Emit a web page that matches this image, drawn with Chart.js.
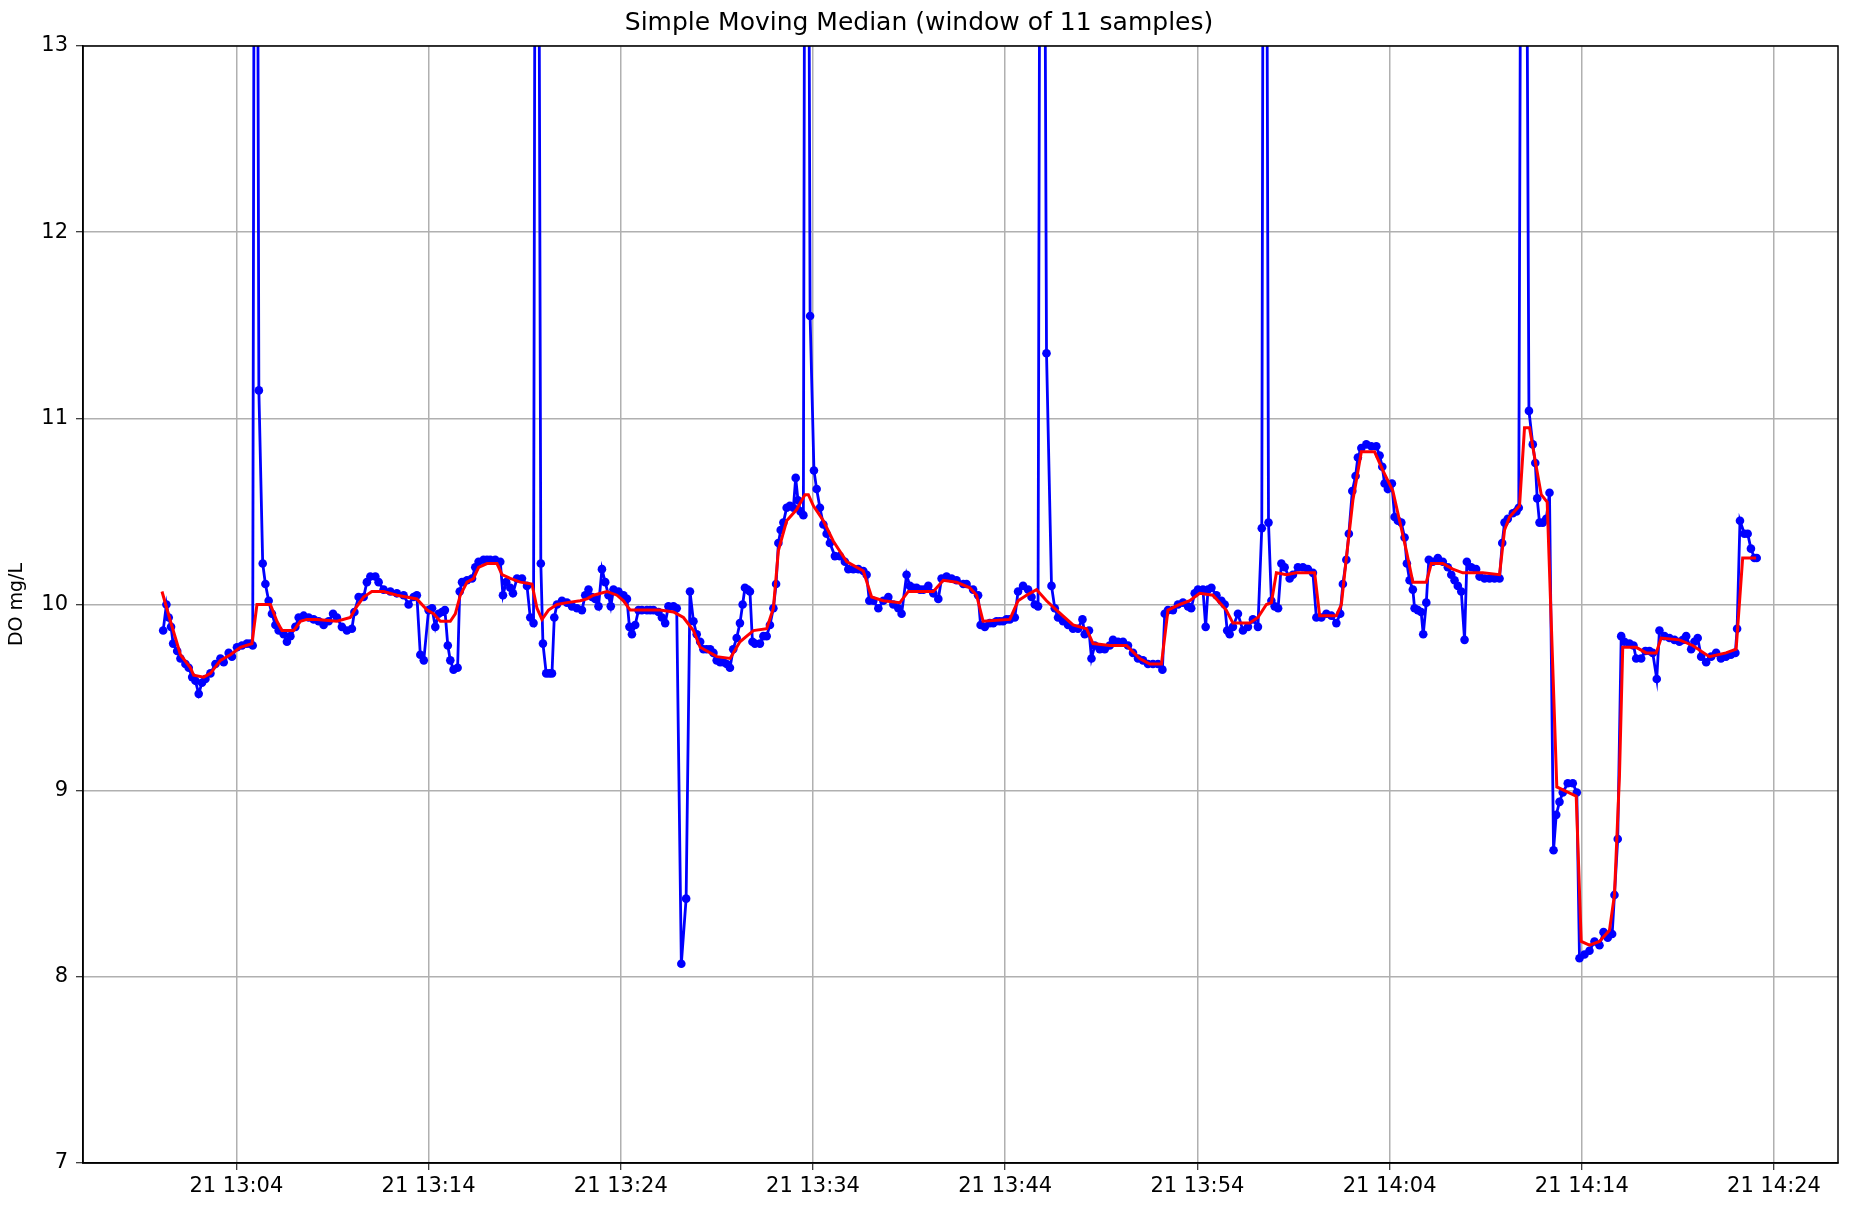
<!DOCTYPE html>
<html>
<head>
<meta charset="utf-8">
<script src="https://cdn.jsdelivr.net/npm/chart.js@4.4.1/dist/chart.umd.min.js"></script>
<style>
    body { margin: 0; background: #fff; }
    #wrap { width: 1850px; height: 1210px; }
</style>
</head>
<body>
<div id="wrap"><canvas id="medianChart" width="1850" height="1210"></canvas></div>
<script>
// minutes after 13:00 on day 21
const tickMinutes = [4, 14, 24, 34, 44, 54, 64, 74, 84];

const rawMinutes = [
    0.19, 0.36, 0.48, 0.60, 0.71, 0.92, 1.09, 1.35, 1.52, 1.70,
    1.87, 2.04, 2.21, 2.39, 2.65, 2.91, 3.17, 3.34, 3.60, 3.77,
    4.03, 4.29, 4.55, 4.73, 4.85, 5.00, 5.17, 5.37, 5.51, 5.68,
    5.85, 6.03, 6.20, 6.46, 6.63, 6.81, 7.07, 7.24, 7.50, 7.76,
    8.02, 8.28, 8.54, 8.80, 9.03, 9.23, 9.49, 9.75, 10.01, 10.14,
    10.36, 10.62, 10.79, 10.97, 11.23, 11.40, 11.66, 12.01, 12.35, 12.70,
    12.96, 13.22, 13.39, 13.57, 13.75, 14.00, 14.18, 14.35, 14.52, 14.70,
    14.85, 15.00, 15.13, 15.30, 15.51, 15.62, 15.74, 16.00, 16.26, 16.43,
    16.60, 16.86, 17.04, 17.21, 17.47, 17.73, 17.87, 18.04, 18.25, 18.39,
    18.60, 18.86, 19.12, 19.29, 19.46, 19.62, 19.84, 19.95, 20.12, 20.28,
    20.42, 20.54, 20.68, 20.94, 21.20, 21.46, 21.72, 21.98, 22.15, 22.32,
    22.50, 22.67, 22.84, 23.02, 23.19, 23.36, 23.48, 23.62, 23.88, 24.14,
    24.32, 24.45, 24.58, 24.75, 24.92, 25.10, 25.36, 25.53, 25.70, 25.96,
    26.14, 26.31, 26.48, 26.74, 26.91, 27.15, 27.40, 27.60, 27.78, 27.95,
    28.13, 28.30, 28.47, 28.65, 28.82, 28.99, 29.17, 29.34, 29.51, 29.68,
    29.85, 30.03, 30.20, 30.34, 30.46, 30.60, 30.72, 30.85, 30.98, 31.24,
    31.42, 31.59, 31.76, 31.94, 32.08, 32.20, 32.32, 32.46, 32.63, 32.80,
    32.98, 33.10, 33.22, 33.35, 33.50, 33.65, 33.85, 34.05, 34.19, 34.36,
    34.54, 34.71, 34.88, 35.14, 35.40, 35.66, 35.84, 36.10, 36.36, 36.62,
    36.79, 36.93, 37.14, 37.40, 37.66, 37.92, 38.18, 38.44, 38.61, 38.87,
    39.04, 39.22, 39.39, 39.57, 39.74, 40.00, 40.26, 40.52, 40.69, 40.95,
    41.21, 41.47, 41.82, 41.99, 42.33, 42.59, 42.72, 42.94, 43.20, 43.38,
    43.55, 43.72, 43.89, 44.07, 44.24, 44.50, 44.67, 44.93, 45.19, 45.37,
    45.54, 45.71, 45.90, 46.15, 46.41, 46.58, 46.75, 47.01, 47.27, 47.53,
    47.79, 48.02, 48.14, 48.36, 48.49, 48.66, 48.92, 49.18, 49.44, 49.61,
    49.87, 50.13, 50.39, 50.65, 50.91, 51.17, 51.43, 51.69, 51.95, 52.18,
    52.30, 52.47, 52.73, 52.99, 53.25, 53.51, 53.68, 53.86, 54.03, 54.29,
    54.43, 54.55, 54.73, 54.99, 55.25, 55.42, 55.55, 55.68, 55.85, 56.11,
    56.37, 56.63, 56.89, 57.15, 57.35, 57.50, 57.70, 57.85, 58.02, 58.20,
    58.37, 58.54, 58.80, 58.97, 59.23, 59.49, 59.75, 60.01, 60.19, 60.45,
    60.71, 60.97, 61.23, 61.43, 61.57, 61.75, 61.88, 62.06, 62.23, 62.35,
    62.53, 62.79, 63.05, 63.31, 63.48, 63.62, 63.74, 63.91, 64.12, 64.26,
    64.43, 64.61, 64.78, 64.90, 65.04, 65.21, 65.30, 65.47, 65.64, 65.75,
    65.91, 66.04, 66.25, 66.51, 66.77, 67.03, 67.21, 67.38, 67.55, 67.73,
    67.90, 68.02, 68.25, 68.50, 68.68, 68.94, 69.20, 69.46, 69.72, 69.86,
    69.98, 70.15, 70.41, 70.60, 70.72, 70.95, 71.25, 71.45, 71.58, 71.68,
    71.80, 71.97, 72.15, 72.32, 72.53, 72.67, 72.84, 73.01, 73.27, 73.53,
    73.74, 73.88, 74.14, 74.40, 74.66, 74.92, 75.13, 75.35, 75.58, 75.70,
    75.87, 76.05, 76.22, 76.48, 76.69, 76.83, 77.09, 77.31, 77.52, 77.69,
    77.90, 78.04, 78.30, 78.56, 78.82, 79.08, 79.26, 79.43, 79.69, 79.86,
    80.03, 80.21, 80.47, 80.73, 80.99, 81.24, 81.50, 81.76, 81.99, 82.08,
    82.23, 82.46, 82.63, 82.80, 82.98, 83.10
];

const rawDO = [
    9.86, 10.00, 9.93, 9.88, 9.79, 9.75, 9.71, 9.68, 9.66, 9.61,
    9.59, 9.52, 9.58, 9.60, 9.63, 9.68, 9.71, 9.69, 9.74, 9.72,
    9.77, 9.78, 9.79, 9.79, 9.78, 18, 11.15, 10.22, 10.11, 10.02,
    9.95, 9.89, 9.86, 9.84, 9.80, 9.83, 9.88, 9.93, 9.94, 9.93,
    9.92, 9.91, 9.89, 9.91, 9.95, 9.93, 9.88, 9.86, 9.87, 9.96,
    10.04, 10.04, 10.12, 10.15, 10.15, 10.12, 10.08, 10.07, 10.06, 10.05,
    10.00, 10.04, 10.05, 9.73, 9.70, 9.97, 9.98, 9.88, 9.95, 9.96,
    9.97, 9.78, 9.70, 9.65, 9.66, 10.07, 10.12, 10.13, 10.14, 10.20,
    10.23, 10.24, 10.24, 10.24, 10.24, 10.23, 10.05, 10.12, 10.09, 10.06,
    10.14, 10.14, 10.10, 9.93, 9.90, 18, 10.22, 9.79, 9.63, 9.63,
    9.63, 9.93, 10.00, 10.02, 10.01, 9.99, 9.98, 9.97, 10.05, 10.08,
    10.04, 10.03, 9.99, 10.19, 10.12, 10.05, 9.99, 10.08, 10.07, 10.05,
    10.03, 9.88, 9.84, 9.89, 9.97, 9.97, 9.97, 9.97, 9.97, 9.96,
    9.93, 9.90, 9.99, 9.99, 9.98, 8.07, 8.42, 10.07, 9.91, 9.84,
    9.80, 9.76, 9.76, 9.76, 9.74, 9.70, 9.69, 9.69, 9.68, 9.66,
    9.76, 9.82, 9.90, 10.00, 10.09, 10.08, 10.07, 9.80, 9.79, 9.79,
    9.83, 9.83, 9.89, 9.98, 10.11, 10.33, 10.40, 10.44, 10.52, 10.53,
    10.52, 10.68, 10.56, 10.50, 10.48, 18, 11.55, 10.72, 10.62, 10.52,
    10.43, 10.38, 10.33, 10.26, 10.26, 10.23, 10.19, 10.19, 10.19, 10.18,
    10.16, 10.02, 10.02, 9.98, 10.02, 10.04, 10.00, 9.98, 9.95, 10.16,
    10.10, 10.09, 10.09, 10.08, 10.08, 10.10, 10.06, 10.03, 10.14, 10.15,
    10.14, 10.13, 10.11, 10.11, 10.08, 10.05, 9.89, 9.88, 9.90, 9.90,
    9.91, 9.91, 9.91, 9.92, 9.92, 9.93, 10.07, 10.10, 10.08, 10.04,
    10.00, 9.99, 18, 11.35, 10.10, 9.98, 9.93, 9.91, 9.89, 9.87,
    9.87, 9.92, 9.84, 9.86, 9.71, 9.78, 9.76, 9.76, 9.78, 9.81,
    9.80, 9.80, 9.78, 9.74, 9.71, 9.70, 9.68, 9.68, 9.68, 9.65,
    9.95, 9.97, 9.97, 10.00, 10.01, 9.99, 9.98, 10.06, 10.08, 10.08,
    9.88, 10.08, 10.09, 10.05, 10.02, 10.00, 9.86, 9.84, 9.88, 9.95,
    9.86, 9.88, 9.92, 9.88, 10.41, 18, 10.44, 10.02, 9.99, 9.98,
    10.22, 10.20, 10.14, 10.16, 10.20, 10.20, 10.19, 10.17, 9.93, 9.93,
    9.95, 9.94, 9.90, 9.95, 10.11, 10.24, 10.38, 10.61, 10.69, 10.79,
    10.84, 10.86, 10.85, 10.85, 10.80, 10.74, 10.65, 10.62, 10.65, 10.47,
    10.45, 10.44, 10.36, 10.22, 10.13, 10.08, 9.98, 9.97, 9.96, 9.84,
    10.01, 10.24, 10.23, 10.25, 10.23, 10.20, 10.16, 10.13, 10.10, 10.07,
    9.81, 10.23, 10.20, 10.19, 10.15, 10.14, 10.14, 10.14, 10.14, 10.33,
    10.44, 10.46, 10.49, 10.50, 10.52, 18, 11.04, 10.86, 10.76, 10.57,
    10.44, 10.44, 10.46, 10.60, 8.68, 8.87, 8.94, 8.99, 9.04, 9.04,
    8.99, 8.10, 8.12, 8.14, 8.19, 8.17, 8.24, 8.21, 8.23, 8.44,
    8.74, 9.83, 9.80, 9.79, 9.78, 9.71, 9.71, 9.75, 9.75, 9.74,
    9.60, 9.86, 9.83, 9.82, 9.81, 9.80, 9.81, 9.83, 9.76, 9.80,
    9.82, 9.72, 9.69, 9.72, 9.74, 9.71, 9.72, 9.73, 9.74, 9.87,
    10.45, 10.38, 10.38, 10.30, 10.25, 10.25
];

const medianMinutes = [
    0.13, 0.57, 1.09, 1.61, 1.78, 2.30, 2.65, 3.17, 3.69, 4.21,
    4.81, 5.07, 5.77, 6.11, 6.37, 6.98, 7.33, 7.67, 8.19, 9.23,
    9.93, 10.27, 10.62, 11.05, 11.66, 12.35, 13.39, 13.92, 14.26, 14.61,
    15.13, 15.39, 15.65, 16.00, 16.34, 16.60, 17.04, 17.56, 17.82, 18.25,
    18.77, 19.38, 19.64, 19.90, 20.24, 20.68, 21.20, 21.89, 22.24, 22.58,
    23.28, 23.80, 24.14, 24.49, 25.01, 26.05, 26.74, 27.26, 27.78, 28.13,
    29.00, 29.69, 30.20, 30.90, 31.59, 31.94, 32.20, 32.63, 33.15, 33.58,
    33.76, 34.02, 34.54, 35.06, 35.75, 36.62, 37.05, 37.66, 38.52, 38.96,
    40.26, 40.78, 41.47, 42.16, 42.51, 42.85, 44.24, 44.67, 45.11, 45.63,
    46.15, 46.67, 47.53, 48.23, 48.57, 49.44, 50.31, 51.00, 51.52, 52.13,
    52.47, 53.08, 53.60, 54.12, 54.81, 55.50, 55.85, 56.72, 57.15, 57.59,
    57.85, 58.11, 58.63, 59.15, 60.10, 60.36, 61.23, 61.49, 61.75, 62.09,
    62.53, 63.22, 63.65, 64.17, 64.52, 64.87, 65.21, 65.91, 66.17, 66.77,
    67.29, 67.81, 68.85, 69.72, 69.98, 70.24, 70.76, 71.02, 71.28, 71.63,
    71.89, 72.20, 72.70, 73.71, 73.97, 74.40, 74.92, 75.44, 75.70, 75.96,
    76.13, 76.83, 77.35, 77.87, 78.13, 79.08, 79.77, 80.64, 81.50, 82.03,
    82.37, 83.07
];

const medianDO = [
    10.07, 9.91, 9.73, 9.66, 9.62, 9.61, 9.63, 9.70, 9.73, 9.77,
    9.79, 10.00, 10.00, 9.91, 9.86, 9.86, 9.91, 9.92, 9.92, 9.91,
    9.93, 9.99, 10.04, 10.07, 10.07, 10.05, 10.03, 9.97, 9.95, 9.91,
    9.91, 9.95, 10.05, 10.12, 10.14, 10.20, 10.22, 10.22, 10.16, 10.14,
    10.12, 10.11, 9.98, 9.92, 9.97, 10.00, 10.01, 10.02, 10.03, 10.05,
    10.07, 10.05, 10.02, 9.97, 9.97, 9.97, 9.96, 9.93, 9.86, 9.77,
    9.72, 9.71, 9.80, 9.86, 9.87, 9.98, 10.29, 10.45, 10.51, 10.59,
    10.59, 10.53, 10.45, 10.34, 10.23, 10.18, 10.04, 10.02, 10.01, 10.07,
    10.07, 10.13, 10.12, 10.09, 10.05, 9.91, 9.92, 10.02, 10.05, 10.08,
    10.02, 9.97, 9.89, 9.87, 9.79, 9.78, 9.78, 9.71, 9.68, 9.68,
    9.97, 10.00, 10.02, 10.06, 10.05, 9.97, 9.90, 9.90, 9.93, 10.00,
    10.01, 10.17, 10.16, 10.17, 10.17, 9.94, 9.94, 10.00, 10.25, 10.56,
    10.82, 10.82, 10.72, 10.61, 10.45, 10.29, 10.12, 10.12, 10.22, 10.22,
    10.19, 10.17, 10.17, 10.16, 10.40, 10.47, 10.53, 10.95, 10.95, 10.74,
    10.59, 10.55, 9.02, 8.97, 8.19, 8.17, 8.19, 8.25, 8.44, 9.08,
    9.77, 9.77, 9.74, 9.74, 9.82, 9.81, 9.78, 9.72, 9.74, 9.76,
    10.25, 10.25
];

function minuteLabel(m) {
    const total = 13 * 60 + Math.round(m);
    const h = Math.floor(total / 60);
    const mm = total % 60;
    return '21 ' + h + ':' + String(mm).padStart(2, '0');
}

// draw the top and right spines like matplotlib
const frame = {
    id: 'frame',
    afterDraw(chart) {
        const a = chart.chartArea;
        const c = chart.ctx;
        c.save();
        c.strokeStyle = '#000';
        c.lineWidth = 1.5;
        c.strokeRect(a.left, a.top, a.right - a.left, a.bottom - a.top);
        c.restore();
    }
};

Chart.defaults.font.family = 'DejaVu Sans';
Chart.defaults.color = '#000';

const ctx = document.getElementById('medianChart').getContext('2d');
new Chart(ctx, {
    type: 'line',
    data: {
        datasets: [{
            label: 'median',
            data: medianMinutes.map((m, i) => ({ x: m, y: medianDO[i] })),
            borderColor: '#ff0000',
            borderWidth: 3,
            pointRadius: 0,
            tension: 0,
            order: 0
        }, {
            label: 'raw',
            data: rawMinutes.map((m, i) => ({ x: m, y: rawDO[i] })),
            borderColor: '#0000ff',
            borderWidth: 2.8,
            pointRadius: 4.3,
            pointBackgroundColor: '#0000ff',
            pointBorderWidth: 0,
            tension: 0,
            order: 1
        }]
    },
    options: {
        responsive: false,
        animation: false,
        events: [],
        layout: { padding: { left: 0, right: 12, top: 0, bottom: 0 } },
        plugins: {
            legend: { display: false },
            tooltip: { enabled: false },
            title: {
                display: true,
                text: 'Simple Moving Median (window of 11 samples)',
                font: { size: 25, weight: 'normal' },
                padding: { top: 8, bottom: 8 }
            }
        },
        scales: {
            x: {
                type: 'linear',
                min: -3.98,
                max: 87.33,
                afterBuildTicks: function (scale) {
                    scale.ticks = tickMinutes.map(v => ({ value: v }));
                },
                afterFit: function (scale) {
                    scale.height = 47;
                },
                ticks: {
                    callback: function (value) { return minuteLabel(value); },
                    font: { size: 21 },
                    padding: 4,
                    maxRotation: 0,
                    autoSkip: false
                },
                grid: { color: '#b0b0b0', lineWidth: 1.5, tickLength: 7, tickColor: '#000', tickWidth: 1 },
                border: { color: '#000', width: 1.5 }
            },
            y: {
                min: 7,
                max: 13,
                afterFit: function (scale) {
                    scale.width = 83;
                },
                ticks: { stepSize: 1, font: { size: 21 }, padding: 8 },
                grid: { color: '#b0b0b0', lineWidth: 1.5, tickLength: 7, tickColor: '#000', tickWidth: 1 },
                border: { color: '#000', width: 1.5 },
                title: {
                    display: true,
                    text: 'DO mg/L',
                    font: { size: 19 },
                    padding: { top: 6, bottom: 0 }
                }
            }
        }
    },
    plugins: [frame]
});
</script>
</body>
</html>
